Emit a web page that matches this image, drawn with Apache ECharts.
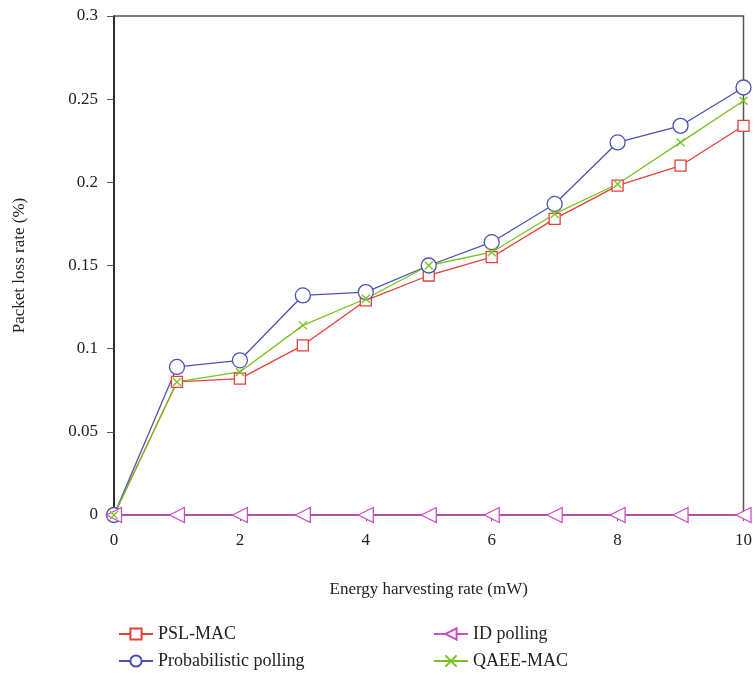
<!DOCTYPE html>
<html><head><meta charset="utf-8">
<script src="https://cdn.jsdelivr.net/npm/echarts@6/dist/echarts.min.js"></script>
<style>html,body{margin:0;padding:0;background:#fff}#c{width:755px;height:675px}</style>
</head><body><div id="c"></div>
<script>
var xValues = [0,1,2,3,4,5,6,7,8,9,10];
var pslMac = [0,0.080,0.082,0.102,0.129,0.144,0.155,0.178,0.198,0.210,0.234];
var probPolling = [0,0.089,0.093,0.132,0.134,0.150,0.164,0.187,0.224,0.234,0.257];
var idPolling = [0,0,0,0,0,0,0,0,0,0,0];
var qaeeMac = [0,0.080,0.086,0.114,0.130,0.150,0.158,0.181,0.199,0.224,0.249];
var names = ['PSL-MAC','Probabilistic polling','ID polling','QAEE-MAC'];

function pairs(v){return xValues.map(function(x,i){return [x,v[i]];});}
var font = 'Liberation Serif';
var chart = echarts.init(document.getElementById('c'));
function ser(name, data, color, symbol, size, rot){
  return {name:name,type:'line',data:pairs(data),symbol:symbol,symbolSize:size,symbolRotate:rot||0,
    showAllSymbol:true,clip:false,
    lineStyle:{color:color,width:1.3},
    itemStyle:{color:symbol.indexOf('path')===0?color:'#fff',borderColor:color,borderWidth:1.3},
    emphasis:{disabled:true}};
}
chart.setOption({
  animation:false,
  grid:{left:114,right:8,top:16,bottom:160,show:true,borderColor:'#555',borderWidth:1.5,containLabel:false},
  xAxis:{type:'value',min:0,max:10,interval:2,
    name:'Energy harvesting rate (mW)',nameLocation:'middle',nameGap:66,
    nameTextStyle:{fontFamily:font,fontSize:17,color:'#222'},
    axisLine:{show:true,lineStyle:{color:'#555',width:1.5}},
    axisTick:{show:true,length:6,lineStyle:{color:'#555'}},
    axisLabel:{fontFamily:font,fontSize:17,color:'#222',margin:17},
    splitLine:{show:false}},
  yAxis:{type:'value',min:0,max:0.3,interval:0.05,
    name:'Packet loss rate (%)',nameLocation:'middle',nameGap:86,nameRotate:90,
    nameTextStyle:{fontFamily:font,fontSize:17,color:'#222'},
    axisLine:{show:true,lineStyle:{color:'#111',width:1.5}},
    axisTick:{show:true,length:7,lineStyle:{color:'#555'}},
    axisLabel:{fontFamily:font,fontSize:17,color:'#222',margin:16},
    splitLine:{show:false}},
  legend:[
    {data:[names[0],names[1]],orient:'vertical',left:113,top:620,itemGap:9,itemWidth:34,itemHeight:14,
     textStyle:{fontFamily:font,fontSize:18,color:'#222'}},
    {data:[names[2],names[3]],orient:'vertical',left:428,top:620,itemGap:9,itemWidth:34,itemHeight:14,
     textStyle:{fontFamily:font,fontSize:18,color:'#222'}}
  ],
  series:[
    ser(names[0],pslMac,'#e5413a','rect',11),
    ser(names[1],probPolling,'#4a53b3','circle',15),
    ser(names[2],idPolling,'#cc4fc0','triangle',15,90),
    ser(names[3],qaeeMac,'#78c21e','path://M0,0L10,10M10,0L0,10',8)
  ]
});
</script></body></html>
